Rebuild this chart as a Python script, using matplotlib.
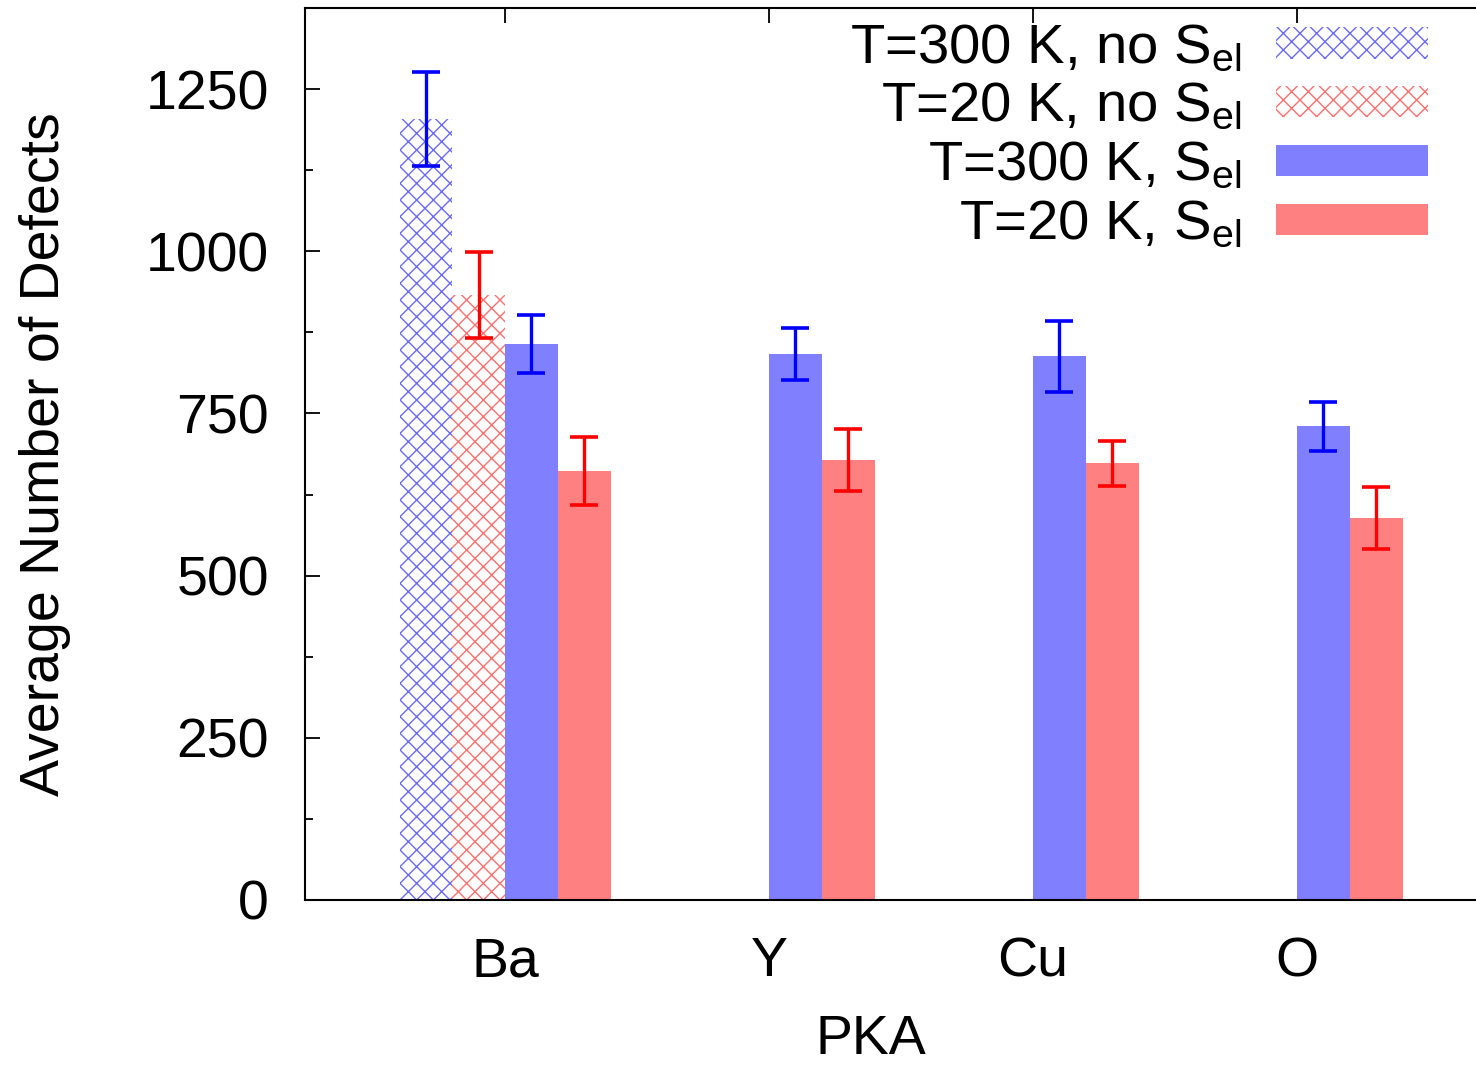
import matplotlib
matplotlib.use("Agg")
import matplotlib.pyplot as plt
import numpy as np

plt.rcParams["font.family"] = ["Liberation Sans", "DejaVu Sans"]
plt.rcParams["mathtext.fontset"] = "custom"
plt.rcParams["mathtext.rm"] = "Liberation Sans"
plt.rcParams["mathtext.it"] = "Liberation Sans"
plt.rcParams["hatch.linewidth"] = 1.0

pka = ["Ba", "Y", "Cu", "O"]

# mean defect counts and their error bars (NaN = no run)
hot_nosel = [1204, np.nan, np.nan, np.nan]
hot_nosel_err = [73, np.nan, np.nan, np.nan]
cold_nosel = [933, np.nan, np.nan, np.nan]
cold_nosel_err = [66, np.nan, np.nan, np.nan]
hot_sel = [857, 841, 838, 730]
hot_sel_err = [44, 40, 55, 38]
cold_sel = [661, 678, 673, 589]
cold_sel_err = [52, 48, 35, 48]

labels = [r"T=300 K, no S$_{\rm el}$", r"T=20 K, no S$_{\rm el}$",
          r"T=300 K, S$_{\rm el}$", r"T=20 K, S$_{\rm el}$"]

W, H = 1476, 1065
fig = plt.figure(figsize=(W / 100, H / 100), dpi=100)
ax = fig.add_axes([305 / W, 165 / H, 1190 / W, 892 / H])

x = np.arange(len(pka))
bw = 0.2
series = [
    (hot_nosel, hot_nosel_err, dict(facecolor="white", edgecolor="#6a6aff", hatch="xx"), "#0000ff"),
    (cold_nosel, cold_nosel_err, dict(facecolor="white", edgecolor="#ff7070", hatch="xx"), "#ff0000"),
    (hot_sel, hot_sel_err, dict(color="#8080ff"), "#0000ff"),
    (cold_sel, cold_sel_err, dict(color="#ff8080"), "#ff0000"),
]
handles = []
for i, (vals, errs, style, ecol) in enumerate(series):
    xs = x + (i - 1.5) * bw
    h = ax.bar(xs, vals, bw, linewidth=0, label=labels[i], zorder=2, **style)
    handles.append(h)
    ax.errorbar(xs, vals, yerr=errs, fmt="none", ecolor=ecol, elinewidth=2.4,
                capsize=10, capthick=2.6, zorder=3)

ax.set_xlim(-0.758, 3.75)
ax.set_ylim(0, 1373)
ax.set_yticks(np.arange(0, 1251, 250))
ax.set_yticks(np.arange(125, 1376, 250), minor=True)
ax.set_xticks(x)
ax.set_xticklabels(pka)
ax.tick_params(axis="y", which="major", direction="in", length=11, width=1.3,
               labelsize=40, pad=26, right=False)
ax.tick_params(axis="y", which="minor", direction="in", length=6, width=1.3,
               right=False)
ax.tick_params(axis="x", direction="in", length=11, width=1.3, labelsize=40,
               pad=26, top=True, bottom=False)
for s in ax.spines.values():
    s.set_linewidth(1.5)

ax.set_xlabel("PKA", fontsize=40)
ax.xaxis.set_label_coords(0.4756, -0.128)
ax.set_ylabel("Average Number of Defects", fontsize=40)
ax.yaxis.set_label_coords(-0.197, 0.5)

leg = ax.legend(handles=handles, loc="upper right", frameon=False,
                markerfirst=False, fontsize=40.5, handlelength=2.7,
                handleheight=0.48, handletextpad=0.62, labelspacing=0.12,
                borderpad=0, borderaxespad=0,
                bbox_to_anchor=(1428 / W, 1 - 23 / H),
                bbox_transform=fig.transFigure)

fig.savefig("out.png", dpi=100)
